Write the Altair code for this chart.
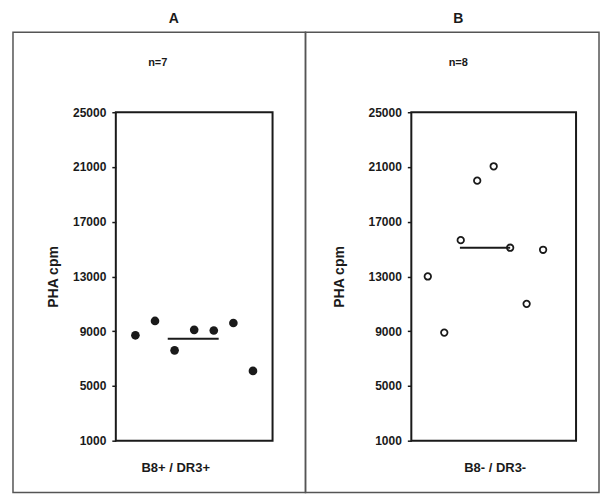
import altair as alt
import pandas as pd

# ---- data ----
panel_titles = ["A", "B"]
n_labels = ["n=7", "n=8"]
x_labels = ["B8+ / DR3+", "B8- / DR3-"]
y_title = "PHA cpm"
y_ticks = [1000, 5000, 9000, 13000, 17000, 21000, 25000]

a_pos = [1, 2, 3, 4, 5, 6, 7]
a_cpm = [8700, 9750, 7600, 9100, 9050, 9600, 6100]
a_mean = 8450
a_mean_span = [2.65, 5.25]

b_pos = [1, 2, 3, 4, 5, 6, 7, 8]
b_cpm = [13000, 8900, 15650, 20000, 21050, 15100, 11000, 14950]
b_mean = 15100
b_mean_span = [2.95, 6.0]

FONT = "Liberation Sans"
INK = "#1a1a1a"


def panel(pos, cpm, mean, span, xmax, filled, width, title, nlab, xlab,
          title_x, n_x, xlab_x, ytitle_x, box):
    df = pd.DataFrame({"x": pos, "y": cpm})
    mdf = pd.DataFrame({"x": [span[0]], "x2": [span[1]], "y": [mean]})
    one = pd.DataFrame({"k": [0]})

    xenc = alt.X("x:Q", scale=alt.Scale(domain=[0, xmax], nice=False, zero=False), axis=None)
    yenc = alt.Y(
        "y:Q",
        scale=alt.Scale(domain=[1000, 25000], nice=False, zero=False),
        axis=alt.Axis(values=y_ticks, title=None, grid=False, domain=False,
                      ticks=True, tickSize=4, tickColor=INK, tickWidth=1.5,
                      labelPadding=6, labelFont=FONT, labelFontSize=12,
                      labelFontWeight="bold", labelColor=INK, format="d"),
    )

    if filled:
        pts = alt.Chart(df).mark_point(filled=True, shape="circle", size=75,
                                       color=INK, opacity=1)
    else:
        pts = alt.Chart(df).mark_point(filled=False, shape="circle", size=42,
                                       color=INK, strokeWidth=1.8, opacity=1)
    pts = pts.encode(x=xenc, y=yenc)

    rule = alt.Chart(mdf).mark_rule(color=INK, strokeWidth=2).encode(
        x=xenc, x2="x2:Q", y=yenc)

    frame_box = alt.Chart(one).mark_rect(fill="white", fillOpacity=0,
                                         stroke="#555", strokeWidth=1.5).encode(
        x=alt.value(box[0]), x2=alt.value(box[1]),
        y=alt.value(box[2]), y2=alt.value(box[3]))

    t_title = alt.Chart(one).mark_text(text=title, font=FONT, fontSize=14,
                                       fontWeight="bold", color=INK).encode(
        x=alt.value(title_x), y=alt.value(-93))
    t_n = alt.Chart(one).mark_text(text=nlab, font=FONT, fontSize=11,
                                   fontWeight="bold", color=INK).encode(
        x=alt.value(n_x), y=alt.value(-49))
    t_x = alt.Chart(one).mark_text(text=xlab, font=FONT, fontSize=13,
                                   fontWeight="bold", color=INK).encode(
        x=alt.value(xlab_x), y=alt.value(356))
    t_y = alt.Chart(one).mark_text(text=y_title, font=FONT, fontSize=14,
                                   fontWeight="bold", color=INK, angle=270).encode(
        x=alt.value(ytitle_x), y=alt.value(165))

    return alt.layer(frame_box, rule, pts, t_title, t_n, t_x, t_y).properties(
        width=width, height=329)


pa = panel(a_pos, a_cpm, a_mean, a_mean_span, 8, True, 157,
           panel_titles[0], n_labels[0], x_labels[0],
           58, 42, 60, -62, (-103, 190, -80, 381))
pb = panel(b_pos, b_cpm, b_mean, b_mean_span, 10, False, 165,
           panel_titles[1], n_labels[1], x_labels[1],
           47, 47, 84, -71, (-106, 188, -80, 381))

chart = alt.hconcat(
    pa, pb, spacing=139, bounds="flush",
    padding={"left": 3, "top": 3, "right": 2, "bottom": 0},
    background="white",
).configure_view(stroke=INK, strokeWidth=2)

chart.save("out.html", embed_options={"renderer": "svg", "actions": False})
